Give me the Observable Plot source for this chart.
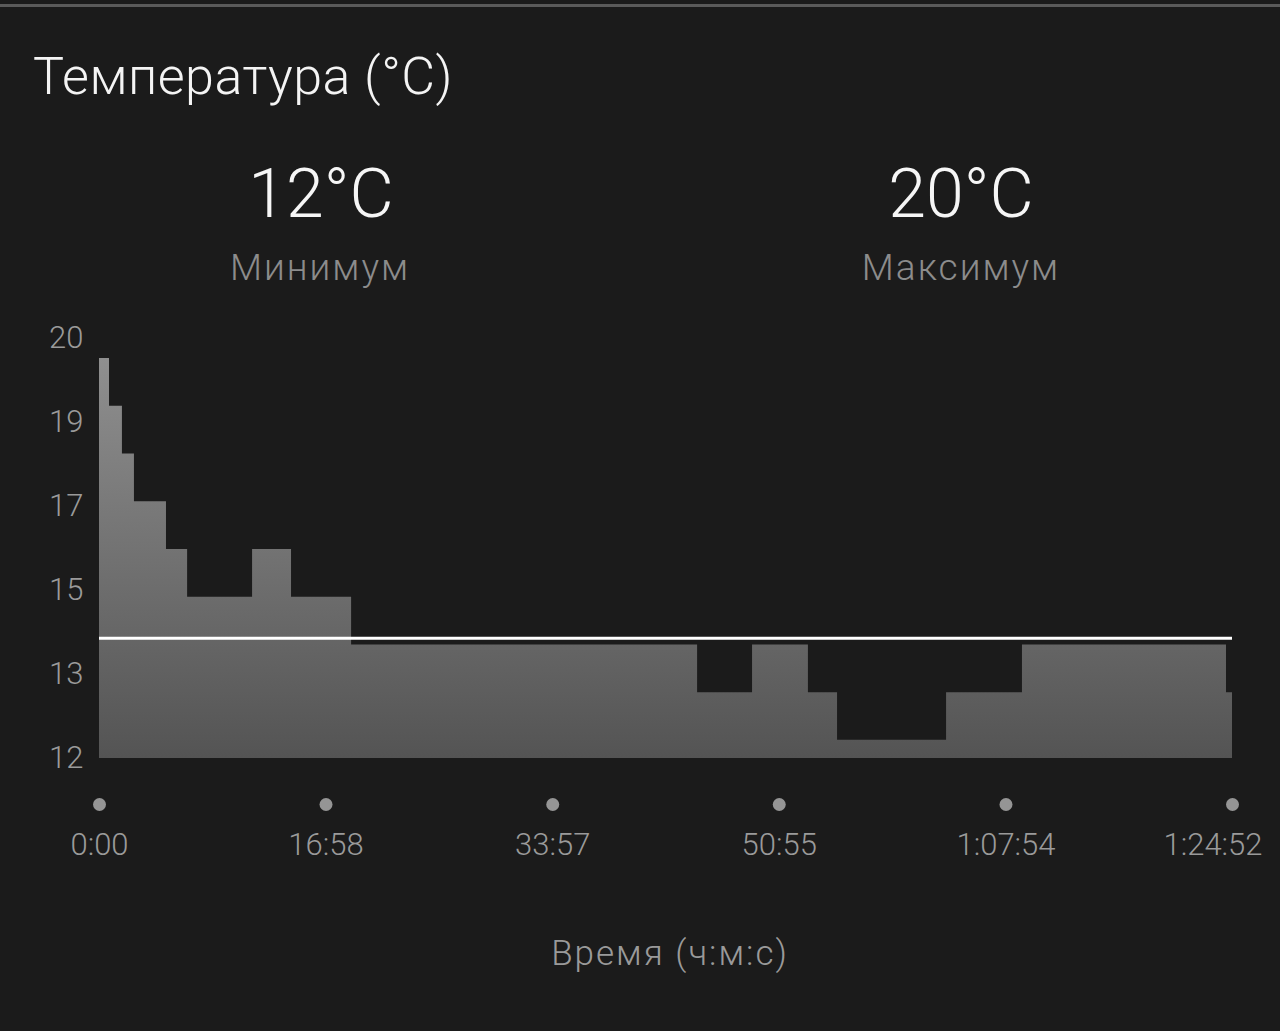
<!DOCTYPE html>
<html>
<head>
<meta charset="utf-8">
<script src="https://cdn.jsdelivr.net/npm/d3@7"></script>
<script src="https://cdn.jsdelivr.net/npm/@observablehq/plot@0.6"></script>
<style>
  html, body { margin: 0; padding: 0; background: #1b1b1b; }
  body { width: 1280px; height: 1031px; position: relative; overflow: hidden; font-family: Roboto, "Noto Sans", sans-serif; }
  .topbar { position: absolute; left: 0; top: 4px; width: 1280px; height: 3px; background: #5a5a5a; }
  .t { position: absolute; line-height: 1; white-space: nowrap; font-weight: 300; }
  #chart { position: absolute; left: 0; top: 0; }
</style>
</head>
<body>
<div class="topbar"></div>
<div id="chart"></div>
<script>
// Temperature log: each reading holds until the next start time (seconds from start)
const stepStart = [0, 45, 103, 157, 301, 396, 688, 863, 1133, 2688, 2935, 3186, 3317, 3807, 4148, 5065, 5092];
const temps     = [20, 19, 18, 17, 16, 15, 16, 15, 14, 13, 14, 13, 12, 13, 14, 13, 13];
const avgTemp = 14.14;

// Axis settings
const totalSeconds = 5092;
const yDomain = [11.62, 20.42];
const yTickLabels = ["12", "13", "15", "17", "19", "20"];
const xTicks = [0, 1018, 2037, 3055, 4074, 5092];
const xTickLabels = ["0:00", "16:58", "33:57", "50:55", "1:07:54", "1:24:52"];

const series = stepStart.map((t, i) => ({t, v: temps[i]}));
const yTickValues = yTickLabels.map((_, i) => yDomain[0] + (yDomain[1] - yDomain[0]) * i / (yTickLabels.length - 1));

const minTemp = d3.min(temps);
const maxTemp = d3.max(temps);

// Header and footer text placed by baseline
function place(text, x, baseline, size, color, anchor, spacing) {
  const el = document.createElement("div");
  el.className = "t";
  el.textContent = text;
  el.style.fontSize = size + "px";
  el.style.color = color;
  el.style.letterSpacing = (spacing || 0) + "px";
  el.style.top = (baseline - 0.842 * size) + "px";
  el.style.left = x + "px";
  if (anchor === "middle") el.style.transform = "translateX(-50%)";
  document.body.appendChild(el);
}
place("Температура (°C)", 33, 95, 52, "#f4f4f4", "start", 0.5);
place(minTemp + "°C", 321, 217, 68, "#f6f6f6", "middle", 0);
place("Минимум", 320, 280, 37, "#8c8c8c", "middle", 2);
place(maxTemp + "°C", 961, 217, 68, "#f6f6f6", "middle", 0);
place("Максимум", 961, 280, 37, "#8c8c8c", "middle", 2);
place("Время (ч:м:с)", 670, 965, 35, "#9a9a9a", "middle", 2);

const tickStyle = {fill: "#9a9a9a", fontSize: 31, fontWeight: 300};

const svg = Plot.plot({
  width: 1280,
  height: 1031,
  marginTop: 338,
  marginBottom: 273,
  marginLeft: 99,
  marginRight: 48,
  style: {background: "transparent", fontFamily: "Roboto, 'Noto Sans', sans-serif"},
  x: {domain: [0, totalSeconds], axis: null},
  y: {domain: yDomain, axis: null},
  marks: [
    Plot.areaY(series, {x: "t", y1: yDomain[0], y2: "v", curve: "step-after", fill: "url(#tempFill)"}),
    Plot.ruleY([avgTemp], {stroke: "#ffffff", strokeWidth: 3}),
    Plot.dot(xTicks, {x: d => d, frameAnchor: "bottom", dy: 46, r: 6.5, fill: "#959595", stroke: null}),
    // time labels; the last one is kept inside the page
    Plot.text(xTicks.slice(0, -1), {x: d => d, text: (d, i) => xTickLabels[i], frameAnchor: "bottom", dy: 96, ...tickStyle}),
    Plot.text(xTicks.slice(-1), {x: d => d, text: () => xTickLabels[xTickLabels.length - 1], frameAnchor: "bottom",
      dy: 96, textAnchor: "end", dx: 30, ...tickStyle}),
    Plot.text(yTickValues, {y: d => d, text: (d, i) => yTickLabels[i], frameAnchor: "left", textAnchor: "end",
      dx: -16, ...tickStyle})
  ]
});

// Vertical grey gradient for the area fill
const grad = d3.select(svg).insert("defs", ":first-child")
  .append("linearGradient")
  .attr("id", "tempFill")
  .attr("x1", 0).attr("x2", 0).attr("y1", 0).attr("y2", 1);
grad.append("stop").attr("offset", "0%").attr("stop-color", "#8f8f8f");
grad.append("stop").attr("offset", "100%").attr("stop-color", "#545454");

document.getElementById("chart").appendChild(svg);
</script>
</body>
</html>
